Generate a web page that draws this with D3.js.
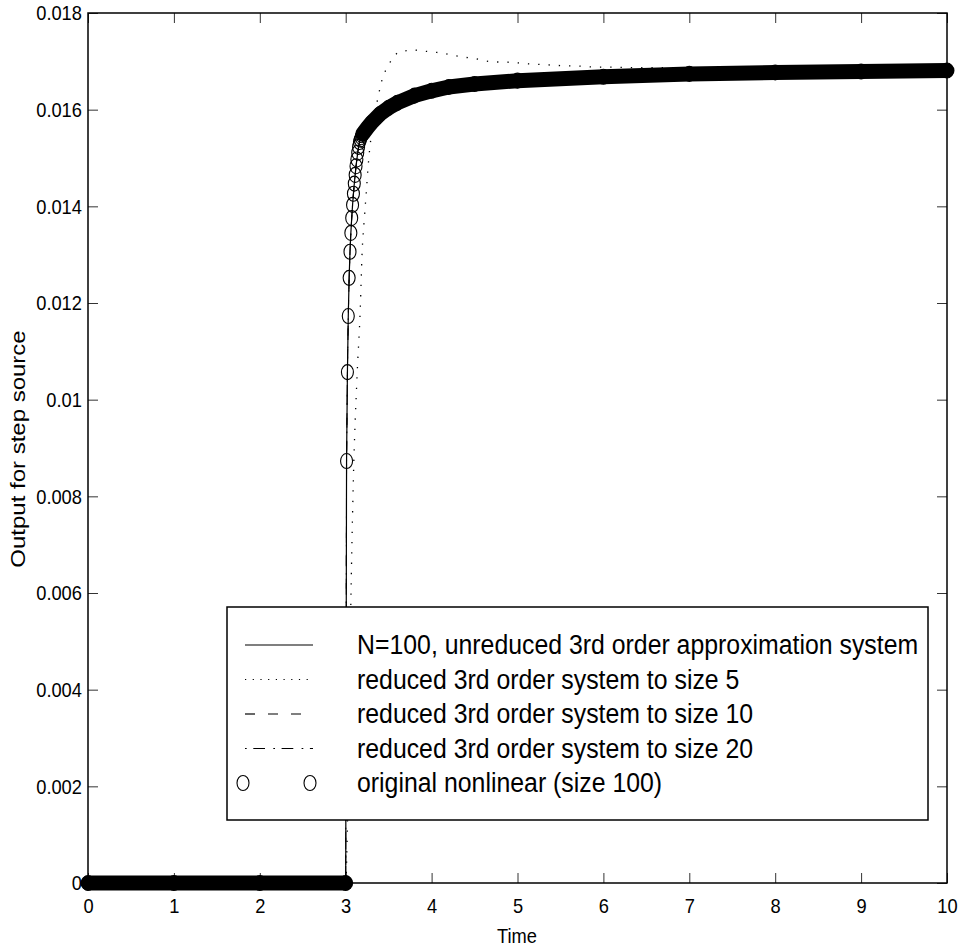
<!DOCTYPE html>
<html>
<head>
<meta charset="utf-8">
<script src="https://cdn.jsdelivr.net/npm/d3@7"></script>
<style>
  body { margin: 0; background: #fff; }
  svg text { font-family: "Liberation Sans", Arial, sans-serif; fill: #000; }
</style>
</head>
<body>
<svg width="960" height="951"></svg>
<script>
// Data =====================================================

var xTicks = [0, 1, 2, 3, 4, 5, 6, 7, 8, 9, 10];
var yTicks = [0, 0.002, 0.004, 0.006, 0.008, 0.01, 0.012, 0.014, 0.016, 0.018];
var yTickLabels = ["0", "0.002", "0.004", "0.006", "0.008", "0.01", "0.012", "0.014", "0.016", "0.018"];

var legendLabels = [
  "N=100, unreduced 3rd order approximation system",
  "reduced 3rd order system to size 5",
  "reduced 3rd order system to size 10",
  "reduced 3rd order system to size 20",
  "original nonlinear (size 100)"
];

// time samples shared by the unreduced / size 10 / size 20 curves
var simTime = [0, 3.0, 3.01, 3.02, 3.03, 3.04, 3.05, 3.06, 3.07, 3.08, 3.09, 3.10,
  3.11, 3.12, 3.13, 3.14, 3.15, 3.16, 3.17, 3.18, 3.19, 3.20, 3.25, 3.30, 3.40,
  3.50, 3.60, 3.80, 4.0, 4.2, 4.5, 5, 6, 7, 8, 9, 10];

var fullValue = [0, 0, 0.00873, 0.01057, 0.01173, 0.01252, 0.01306, 0.01345, 0.01376,
  0.01403, 0.01426, 0.01447, 0.01465, 0.01483, 0.01497, 0.01511, 0.01523, 0.01533,
  0.01538, 0.01543, 0.01547, 0.01550, 0.01562, 0.01573, 0.01591, 0.01604, 0.01614,
  0.01629, 0.01639, 0.01647, 0.01653, 0.01660, 0.01668, 0.01674, 0.01677, 0.01679,
  0.01681];

// size 10 and size 20 sit on top of the unreduced curve
var red10Value = [0, 0, 0.00873, 0.01057, 0.01173, 0.01252, 0.01306, 0.01345, 0.01376,
  0.01403, 0.01426, 0.01447, 0.01465, 0.01483, 0.01497, 0.01511, 0.01523, 0.01533,
  0.01538, 0.01543, 0.01547, 0.01550, 0.01562, 0.01573, 0.01591, 0.01604, 0.01614,
  0.01629, 0.01639, 0.01647, 0.01653, 0.01660, 0.01668, 0.01674, 0.01677, 0.01679,
  0.01681];

var red20Value = [0, 0, 0.00873, 0.01057, 0.01173, 0.01252, 0.01306, 0.01345, 0.01376,
  0.01403, 0.01426, 0.01447, 0.01465, 0.01483, 0.01497, 0.01511, 0.01523, 0.01533,
  0.01538, 0.01543, 0.01547, 0.01550, 0.01562, 0.01573, 0.01591, 0.01604, 0.01614,
  0.01629, 0.01639, 0.01647, 0.01653, 0.01660, 0.01668, 0.01674, 0.01677, 0.01679,
  0.01681];

// size 5 overshoots
var red5Time = [0, 3.0, 3.02, 3.04, 3.06, 3.09, 3.13, 3.17, 3.19, 3.215, 3.24, 3.26,
  3.28, 3.31, 3.34, 3.37, 3.40, 3.43, 3.48, 3.535, 3.61, 3.71, 3.83, 3.92, 4.02,
  4.13, 4.23, 4.33, 4.52, 4.71, 4.91, 5.12, 5.32, 5.53, 5.73, 5.92, 6.11, 6.33,
  6.52, 7, 8, 9, 10];
var red5Value = [0, 0, 0.0012, 0.0034, 0.0058, 0.0084, 0.0104, 0.0119, 0.0130, 0.0137,
  0.0143, 0.0148, 0.0152, 0.0156, 0.0160, 0.0162, 0.01645, 0.01666, 0.01686, 0.01703,
  0.01718, 0.01722, 0.01723, 0.01721, 0.01719, 0.01717, 0.01713, 0.01710, 0.01705,
  0.01699, 0.01698, 0.01695, 0.01693, 0.01691, 0.01690, 0.01688, 0.01688, 0.01687,
  0.01687, 0.01686, 0.01685, 0.01684, 0.01683];

// original nonlinear system, drawn with circle markers
var origTime = [0, 1, 2, 3.0, 3.01, 3.02, 3.03, 3.04, 3.05, 3.06, 3.07, 3.08, 3.09,
  3.10, 3.11, 3.12, 3.13, 3.14, 3.15, 3.16, 3.17, 3.18, 3.19, 3.20, 3.25, 3.30,
  3.40, 3.50, 3.60, 3.80, 4.0, 4.2, 4.5, 5, 6, 7, 8, 9, 10];
var origValue = [0, 0, 0, 0, 0.00873, 0.01057, 0.01173, 0.01252, 0.01306, 0.01345,
  0.01376, 0.01403, 0.01426, 0.01447, 0.01465, 0.01483, 0.01497, 0.01511, 0.01523,
  0.01533, 0.01538, 0.01543, 0.01547, 0.01550, 0.01562, 0.01573, 0.01591, 0.01604,
  0.01614, 0.01629, 0.01639, 0.01647, 0.01653, 0.01660, 0.01668, 0.01674, 0.01677,
  0.01679, 0.01681];

// globals ==================================================

var svg = d3.select("svg");
var plotLeft = 88, plotRight = 947, plotTop = 13, plotBottom = 883;
var textSquash = 0.87;   // the original text is narrow

var x = d3.scaleLinear().domain([0, 10]).range([plotLeft, plotRight]);
var y = d3.scaleLinear().domain([0, 0.018]).range([plotBottom, plotTop]);

function pts(ts, vs) {
  return ts.map(function(t, i) { return [t, vs[i]]; });
}

var line = d3.line()
  .x(function(d) { return x(d[0]); })
  .y(function(d) { return y(d[1]); });

// Axes =====================================================

function styleAxis(g) {
  g.select(".domain").remove();
  g.selectAll(".tick line").attr("stroke", "#333").attr("stroke-width", 1);
  g.selectAll("text")
    .attr("font-size", 21)
    .attr("font-family", "'Liberation Sans', Arial, sans-serif")
    .attr("fill", "#000")
    .attr("transform", "scale(" + textSquash + ",1)");
}

svg.append("g")
  .attr("transform", "translate(0," + plotBottom + ")")
  .call(d3.axisBottom(x).tickValues(xTicks).tickSize(-10).tickPadding(15))
  .call(styleAxis);

svg.append("g")
  .attr("transform", "translate(" + plotLeft + ",0)")
  .call(d3.axisLeft(y).tickValues(yTicks).tickSize(-10).tickPadding(7)
    .tickFormat(function(d, i) { return yTickLabels[i]; }))
  .call(styleAxis);

svg.append("g")
  .attr("transform", "translate(0," + plotTop + ")")
  .call(d3.axisTop(x).tickValues(xTicks).tickSize(-10).tickFormat(""))
  .call(styleAxis);

svg.append("g")
  .attr("transform", "translate(" + plotRight + ",0)")
  .call(d3.axisRight(y).tickValues(yTicks).tickSize(-10).tickFormat(""))
  .call(styleAxis);

// Curves ===================================================

var plot = svg.append("g");

// circle markers are so dense that they merge into a thick band
var orig = pts(origTime, origValue);
plot.append("path")
  .datum(orig.filter(function(d) { return d[0] <= 3.0; }))
  .attr("d", line)
  .attr("fill", "none").attr("stroke", "#000")
  .attr("stroke-width", 15).attr("stroke-linecap", "round");
plot.append("path")
  .datum(orig.filter(function(d) { return d[0] >= 3.2; }))
  .attr("d", line)
  .attr("fill", "none").attr("stroke", "#000")
  .attr("stroke-width", 15).attr("stroke-linecap", "round")
  .attr("stroke-linejoin", "round");

plot.selectAll("ellipse.orig")
  .data(orig)
  .enter().append("ellipse")
  .attr("class", "orig")
  .attr("cx", function(d) { return x(d[0]); })
  .attr("cy", function(d) { return y(d[1]); })
  .attr("rx", 6).attr("ry", 7.5)
  .attr("fill", "none").attr("stroke", "#000").attr("stroke-width", 1.1);

plot.append("path")
  .datum(pts(simTime, fullValue))
  .attr("d", line)
  .attr("fill", "none").attr("stroke", "#000").attr("stroke-width", 1.2);

plot.append("path")
  .datum(pts(simTime, red10Value))
  .attr("d", line)
  .attr("fill", "none").attr("stroke", "#000").attr("stroke-width", 1)
  .attr("stroke-dasharray", "10,13");

plot.append("path")
  .datum(pts(simTime, red20Value))
  .attr("d", line)
  .attr("fill", "none").attr("stroke", "#000").attr("stroke-width", 1)
  .attr("stroke-dasharray", "1.7,6.6,11.7,8.3");

plot.append("path")
  .datum(pts(red5Time, red5Value))
  .attr("d", line.curve(d3.curveMonotoneX))
  .attr("fill", "none").attr("stroke", "#000").attr("stroke-width", 1.3)
  .attr("stroke-dasharray", "1.3,9");
line.curve(d3.curveLinear);

// frame
svg.append("rect")
  .attr("x", plotLeft).attr("y", plotTop)
  .attr("width", plotRight - plotLeft).attr("height", plotBottom - plotTop)
  .attr("fill", "none").attr("stroke", "#000").attr("stroke-width", 1.5);

// Labels ===================================================

svg.append("text")
  .attr("transform", "translate(517,943) scale(" + textSquash + ",1)")
  .attr("text-anchor", "middle")
  .attr("font-size", 21)
  .text("Time");

svg.append("text")
  .attr("transform", "translate(25,449) scale(" + textSquash + ",1) rotate(-90)")
  .attr("text-anchor", "middle")
  .attr("font-size", 24)
  .text("Output for step source");

// Legend ===================================================

var legend = svg.append("g").attr("class", "legend");
legend.append("rect")
  .attr("x", 227).attr("y", 607).attr("width", 701).attr("height", 213)
  .attr("fill", "#fff").attr("stroke", "#000").attr("stroke-width", 1.5);

var legendDash = [null, "1.2,6.5", "10,13", "1.7,6.6,11.7,8.3"];
var rowY = function(i) { return 645 + i * 34.5; };

legendLabels.forEach(function(label, i) {
  if (i < 4) {
    legend.append("line")
      .attr("x1", 245).attr("x2", 313)
      .attr("y1", rowY(i)).attr("y2", rowY(i))
      .attr("stroke", "#000").attr("stroke-width", 1.2)
      .attr("stroke-dasharray", legendDash[i]);
  } else {
    [243, 310].forEach(function(cx) {
      legend.append("ellipse")
        .attr("cx", cx).attr("cy", rowY(i))
        .attr("rx", 6).attr("ry", 7.5)
        .attr("fill", "none").attr("stroke", "#000").attr("stroke-width", 1.1);
    });
  }
  legend.append("text")
    .attr("transform", "translate(357," + rowY(i) + ") scale(0.92,1)")
    .attr("dy", "0.35em")
    .attr("font-size", 27)
    .text(label);
});
</script>
</body>
</html>
